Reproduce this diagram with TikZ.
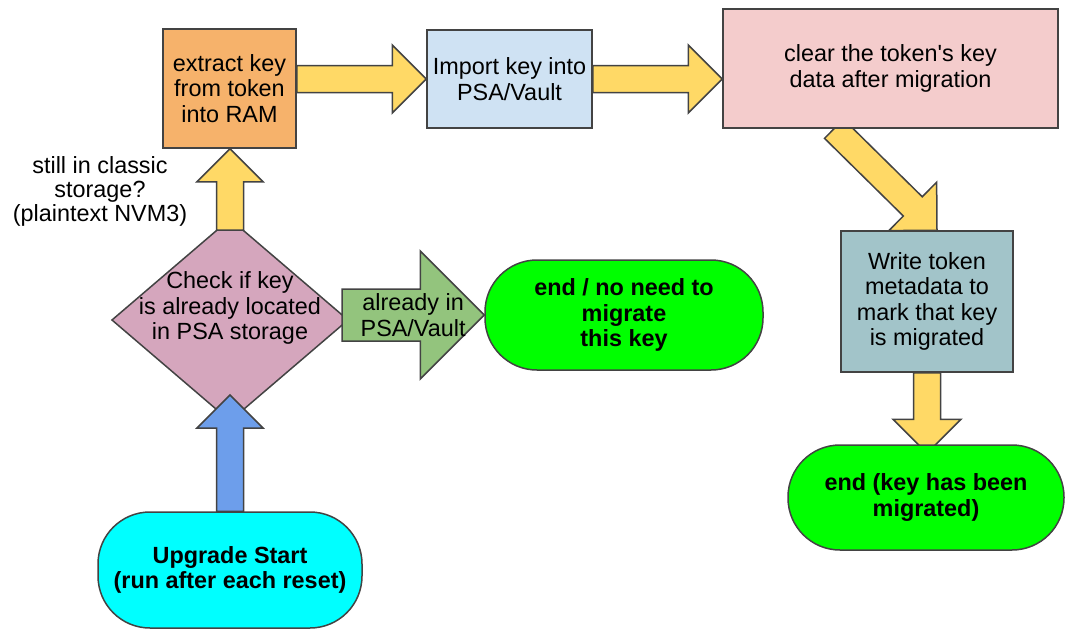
\documentclass[tikz,border=0pt]{standalone}
\usepackage{fontspec}
\setmainfont{Liberation Sans}
\usepackage{tikz}
\usetikzlibrary{shapes.geometric,positioning,calc,backgrounds}

\definecolor{boxline}{HTML}{434343}
\definecolor{extractfill}{HTML}{F6B26B}
\definecolor{importfill}{HTML}{CFE2F3}
\definecolor{clearfill}{HTML}{F4CCCC}
\definecolor{writefill}{HTML}{A2C4C9}
\definecolor{checkfill}{HTML}{D5A6BD}
\definecolor{vaultfill}{HTML}{93C47D}
\definecolor{flowfill}{HTML}{FFD966}
\definecolor{startarrow}{HTML}{6D9EEB}
\definecolor{endfill}{HTML}{00FF00}
\definecolor{startfill}{HTML}{00FFFF}

\tikzset{
  txt/.style={align=center, inner sep=0pt, font=\fontsize{23.4}{25.5}\selectfont},
  box/.style={txt, draw=boxline, line width=1.5pt},
  pill/.style={box, rounded corners=52pt, font=\bfseries\fontsize{23.4}{25.5}\selectfont},
  arrowline/.style={draw=boxline, line width=1.5pt, line join=miter},
}

% block arrow: fill, half shaft, half head, from, to
\newcommand{\fatarrow}[5]{%
  \coordinate (fa-a) at (#4);
  \coordinate (fa-b) at (#5);
  \coordinate (fa-h) at ($(fa-b)!#3!(fa-a)$);
  \draw[arrowline, fill=#1] ($(fa-a)!#2!90:(fa-b)$) -- ($(fa-h)!#2!90:(fa-b)$)
    -- ($(fa-h)!#3!90:(fa-b)$) -- (fa-b) -- ($(fa-h)!#3!-90:(fa-b)$)
    -- ($(fa-h)!#2!-90:(fa-b)$) -- ($(fa-a)!#2!-90:(fa-b)$) -- cycle;
}

\begin{document}
\begin{tikzpicture}[x=1pt, y=-1pt]
    \useasboundingbox (0,0) rectangle (1066,629);

    \node[box, fill=extractfill, minimum width=133pt, minimum height=119pt] (ex) at (229.5,88.5) {extract key\\from token\\into RAM};
    \node[box, fill=importfill, minimum width=165pt, minimum height=98pt] (im) at (509.5,79) {Import key into\\PSA/Vault};
    \node[box, fill=clearfill, minimum width=335pt, minimum height=119pt] (cl) at (890.5,68.5) {clear the token\textquotesingle s key\\data after migration};
    \node[box, fill=writefill, minimum width=172pt, minimum height=141pt] (wr) at (927,301.5) {Write token\\metadata to\\mark that key\\is migrated};
    \node[pill, fill=endfill, minimum width=278pt, minimum height=110pt] (nn) at (624,315) {end / no need to\\migrate\\this key};
    \node[pill, fill=endfill, minimum width=276pt, minimum height=105pt] (mg) at (926,497.5) {end (key has been\\migrated)};
    \node[pill, fill=startfill, minimum width=264pt, minimum height=116pt] (st) at (230,570) {Upgrade Start\\(run after each reset)};
    \node[txt, font=\fontsize{23.4}{24}\selectfont] (q) at (100,191) {still in classic\\storage?\\(plaintext NVM3)};

    \begin{scope}[on background layer]
        \node[diamond, draw=boxline, line width=1.5pt, fill=checkfill, minimum width=236pt, minimum height=202pt, inner sep=0pt, outer sep=0pt] (ck) at (230,320) {};
        \fatarrow{flowfill}{13.5pt}{33pt}{$(ck.north)+(0,11)$}{ck.north |- ex.south}
        \fatarrow{flowfill}{13.5pt}{34pt}{ex.east |- im.west}{im.west}
        \fatarrow{flowfill}{13.5pt}{34pt}{im.east}{cl.west |- im.east}
        \fatarrow{flowfill}{13.5pt}{34pt}{$(cl.south)+(-56.5,0)$}{$(wr.north)+(10,0)$}
        \fatarrow{flowfill}{13.5pt}{34pt}{wr.south}{$(wr.south |- mg.north)+(0,9)$}
        \fatarrow{startarrow}{13.5pt}{33pt}{st.north}{$(ck.south)+(0,-26)$}
        \fatarrow{vaultfill}{26pt}{64pt}{$(ck.east |- nn.west)+(-6,0)$}{nn.west}
    \end{scope}

    \node[txt] (ckt) at ($(ck)+(0,-12)$) {Check if key\\is already located\\in PSA storage};
    \node[txt] (pv) at ($(ck.east |- nn.west)!0.5!(nn.west)+(-3,0)$) {already in\\PSA/Vault};
\end{tikzpicture}
\end{document}
